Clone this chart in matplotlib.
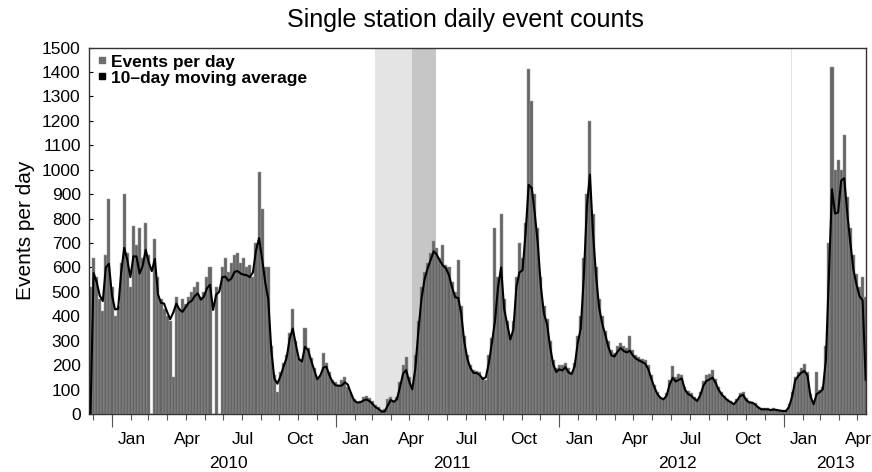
import numpy as np
import pandas as pd
import matplotlib
matplotlib.use('Agg')
import matplotlib.pyplot as plt
from matplotlib.lines import Line2D

plt.rcParams['font.family'] = ['Liberation Sans', 'DejaVu Sans']

# Data, one sample every 5 days
start_date = '2009-11-27'
step = '5D'

events_per_day = [
    520, 640, 560, 470, 420, 650, 880, 520, 400, 440,
    620, 900, 660, 520, 770, 690, 760, 640, 780, 650,
    0, 715, 560, 470, 430, 400, 380, 150, 480, 430,
    470, 450, 480, 500, 520, 540, 480, 500, 560, 600,
    0, 520, 0, 600, 640, 580, 620, 650, 660, 620,
    640, 600, 610, 560, 700, 990, 840, 600, 600, 280,
    160, 90, 170, 210, 240, 330, 430, 300, 230, 220,
    350, 270, 230, 190, 150, 160, 250, 210, 170, 140,
    130, 120, 140, 150, 110, 90, 60, 50, 55, 70,
    75, 65, 55, 35, 30, 15, 20, 60, 70, 55,
    70, 130, 200, 235, 150, 110, 240, 380, 520, 580,
    620, 660, 710, 680, 640, 690, 610, 600, 540, 500,
    630, 440, 320, 240, 200, 180, 175, 170, 150, 140,
    240, 310, 760, 560, 820, 470, 380, 320, 380, 560,
    700, 640, 780, 1410, 1280, 900, 760, 560, 440, 390,
    300, 220, 190, 200, 200, 210, 190, 170, 210, 320,
    400, 640, 900, 1200, 820, 600, 470, 400, 340, 300,
    260, 250, 280, 290, 280, 270, 320, 260, 240, 235,
    225, 220, 200, 160, 120, 90, 70, 65, 85, 140,
    195, 150, 165, 160, 110, 95, 85, 70, 60, 90,
    135, 160, 165, 180, 145, 110, 90, 75, 60, 55,
    45, 60, 85, 90, 65, 55, 50, 45, 30, 25,
    25, 25, 20, 25, 20, 18, 15, 15, 40, 90,
    150, 170, 190, 205, 170, 80, 50, 170, 100, 110,
    280, 700, 1420, 1000, 1040, 1000, 1140, 890, 760, 650,
    575, 520, 560, 480,
]

moving_average = [
    0, 577, 540, 485, 462, 600, 615, 485, 428, 430,
    580, 680, 630, 560, 645, 645, 575, 605, 672, 620,
    585, 635, 490, 455, 452, 418, 388, 415, 452, 428,
    418, 436, 455, 463, 482, 494, 468, 480, 515, 529,
    426, 488, 500, 560, 562, 545, 555, 582, 585, 575,
    570, 568, 560, 580, 668, 720, 635, 540, 470, 262,
    145, 124, 155, 194, 230, 308, 350, 285, 225, 215,
    275, 262, 219, 180, 142, 158, 190, 193, 157, 131,
    117, 116, 116, 130, 120, 85, 56, 47, 48, 54,
    60, 53, 42, 28, 21, 10, 10, 35, 57, 50,
    60, 110, 165, 180, 133, 101, 185, 340, 470, 550,
    595, 630, 666, 652, 628, 608, 596, 568, 518, 478,
    475, 410, 295, 225, 188, 168, 168, 160, 143, 150,
    208, 292, 380, 519, 600, 430, 368, 305, 345, 520,
    580, 588, 740, 938, 925, 820, 695, 520, 410, 368,
    275, 204, 172, 183, 178, 192, 170, 163, 195, 290,
    350, 560, 850, 980, 740, 565, 435, 370, 325, 275,
    240, 235, 255, 270, 258, 252, 259, 240, 227, 219,
    213, 206, 185, 146, 110, 82, 66, 60, 74, 120,
    148, 133, 140, 145, 100, 82, 75, 63, 53, 76,
    115, 135, 141, 149, 128, 99, 80, 67, 55, 48,
    40, 55, 74, 78, 57, 47, 46, 38, 26, 19,
    19, 19, 16, 18, 16, 14, 12, 12, 30, 72,
    138, 156, 169, 176, 158, 72, 40, 82, 89, 101,
    220, 570, 920, 820, 825, 955, 965, 820, 700, 590,
    530, 482, 465, 140,
]

# shaded periods
light_span = ('2011-03-07', '2011-05-06')
dark_span = ('2011-05-06', '2011-06-13')
thin_span = ('2013-01-13', '2013-01-14')

month_names = ['Jan', 'Apr', 'Jul', 'Oct']
year_labels = ['2010', '2011', '2012', '2013']
year_label_dates = ['2010-07-10', '2011-07-09', '2012-07-11', '2013-03-26']

dates = pd.date_range(start_date, periods=len(events_per_day), freq=step)

fig = plt.figure(figsize=(8.72, 4.72), dpi=100)
ax = fig.add_axes([89 / 872, 1 - 414 / 472, (866 - 89) / 872, (414 - 47.5) / 472])

ax.axvspan(pd.Timestamp(light_span[0]), pd.Timestamp(light_span[1]), color='#e4e4e4', lw=0, zorder=0)
ax.axvspan(pd.Timestamp(dark_span[0]), pd.Timestamp(dark_span[1]), color='#c6c6c6', lw=0, zorder=0)
ax.axvspan(pd.Timestamp(thin_span[0]), pd.Timestamp(thin_span[1]), color='#e2e2e2', lw=0, zorder=0)

ax.bar(dates, events_per_day, width=5, color='#656565', edgecolor='#9c9c9c',
       linewidth=0.35, zorder=2)
ax.plot(dates, moving_average, color='black', lw=1.5, zorder=3)

ax.set_ylim(0, 1500)
ax.set_yticks(np.arange(0, 1501, 100))
ax.set_xlim(pd.Timestamp('2009-11-24 12:00'), pd.Timestamp('2013-05-15 12:00'))

# month ticks and offset labels
month_starts = pd.date_range('2009-12-01', '2013-05-01', freq='MS')
ax.set_xticks(month_starts, minor=True)
label_months = [d for d in month_starts if d.month in (1, 4, 7, 10)]
label_pos = [d + pd.Timedelta(days=33) for d in label_months]
ax.set_xticks(label_pos)
ax.set_xticklabels([month_names[(d.month - 1) // 3] for d in label_months])
ax.tick_params(axis='x', which='major', length=0, pad=13, labelsize=12.5)
ax.tick_params(axis='x', which='minor', length=4, width=0.8, color='#555555')
ax.tick_params(axis='y', direction='in', length=3, width=0.8, pad=6, labelsize=12.5)

sec = ax.secondary_xaxis('bottom')
sec.set_xticks(pd.date_range('2010-01-01', '2013-01-01', freq='YS'))
sec.set_xticklabels([])
sec.tick_params(length=9, width=0.8, color='#555555')
sec.spines['bottom'].set_visible(False)

for lab, d in zip(year_labels, year_label_dates):
    ax.text(pd.Timestamp(d), -0.134, lab, transform=ax.get_xaxis_transform(),
            ha='center', va='center', fontsize=12.5)

for s in ax.spines.values():
    s.set_color('#333333')
    s.set_linewidth(1.0)

ax.set_ylabel('Events per day', fontsize=15, labelpad=5)
fig.text(465 / 872, 1 - 20 / 472, 'Single station daily event counts', ha='center', va='center',
         fontsize=18)

handles = [Line2D([], [], marker='s', ls='none', color='#6e6e6e', markersize=5),
           Line2D([], [], marker='s', ls='none', color='black', markersize=5)]
ax.legend(handles, ['Events per day', '10\u2013day moving average'], loc='upper left',
          bbox_to_anchor=(0.0, 1.005), frameon=False, handlelength=0.5, handletextpad=0.25,
          labelspacing=0.05, borderaxespad=0.1, prop={'weight': 'bold', 'size': 12.5})

fig.savefig('out.png', dpi=100)
